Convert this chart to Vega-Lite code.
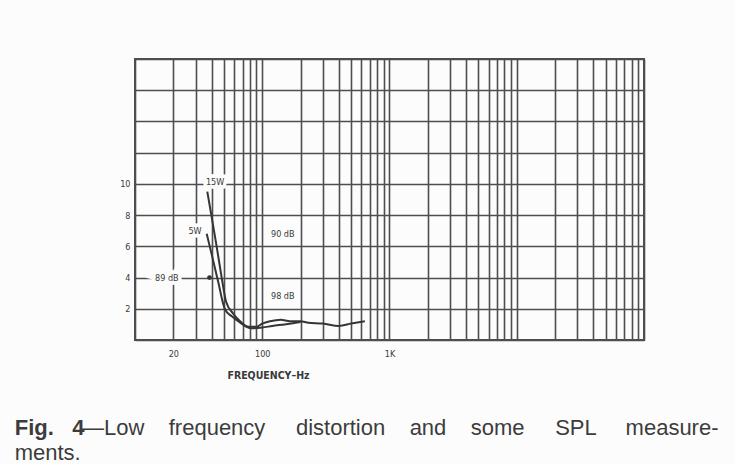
{
  "$schema": "https://vega.github.io/schema/vega-lite/v6.json",
  "width": 509,
  "height": 281,
  "autosize": {"type": "none"},
  "padding": {"left": 135, "top": 59, "right": 91, "bottom": 124},
  "background": "#fcfcfc",
  "title": {
    "text": "Fig.\u00a0\u00a0\u00a04",
    "subtitle": ["\u200b\u00a0\u00a0\u00a0\u00a0\u00a0\u00a0\u00a0\u00a0\u00a0\u00a0\u00a0—Low\u00a0\u00a0\u00a0\u00a0frequency\u00a0\u00a0\u00a0\u00a0\u00a0distortion\u00a0\u00a0\u00a0\u00a0and\u00a0\u00a0\u00a0\u00a0some\u00a0\u00a0\u00a0\u00a0\u00a0SPL\u00a0\u00a0\u00a0\u00a0\u2009measure-", "ments."],
    "orient": "bottom",
    "anchor": "start",
    "frame": "bounds",
    "font": "Liberation Sans",
    "fontSize": 22,
    "fontWeight": "bold",
    "color": "#3c3c3c",
    "subtitleFont": "Liberation Sans",
    "subtitleFontSize": 22,
    "subtitleFontWeight": "normal",
    "subtitleColor": "#3c3c3c",
    "subtitleLineHeight": 25,
    "subtitlePadding": -22,
    "offset": 37,
    "dx": -105
  },
  "datasets": {
    "curves": [
      {"series": "15W", "freq": 37, "thd": 9.5},
      {"series": "15W", "freq": 40, "thd": 7.9},
      {"series": "15W", "freq": 44, "thd": 5.9},
      {"series": "15W", "freq": 48, "thd": 4.0},
      {"series": "15W", "freq": 52, "thd": 2.45},
      {"series": "15W", "freq": 59, "thd": 1.7},
      {"series": "15W", "freq": 68, "thd": 1.15},
      {"series": "15W", "freq": 78, "thd": 0.85},
      {"series": "15W", "freq": 90, "thd": 0.85},
      {"series": "15W", "freq": 100, "thd": 1.05},
      {"series": "15W", "freq": 115, "thd": 1.2},
      {"series": "15W", "freq": 140, "thd": 1.3},
      {"series": "15W", "freq": 165, "thd": 1.2},
      {"series": "15W", "freq": 200, "thd": 1.2},
      {"series": "15W", "freq": 230, "thd": 1.1},
      {"series": "15W", "freq": 300, "thd": 1.05},
      {"series": "15W", "freq": 400, "thd": 0.9},
      {"series": "15W", "freq": 500, "thd": 1.05},
      {"series": "15W", "freq": 640, "thd": 1.2},
      {"series": "5W", "freq": 36.6, "thd": 6.8},
      {"series": "5W", "freq": 40, "thd": 5.5},
      {"series": "5W", "freq": 45, "thd": 3.75},
      {"series": "5W", "freq": 51, "thd": 1.95},
      {"series": "5W", "freq": 58, "thd": 1.5},
      {"series": "5W", "freq": 66, "thd": 1.15},
      {"series": "5W", "freq": 75, "thd": 0.85},
      {"series": "5W", "freq": 82, "thd": 0.75},
      {"series": "5W", "freq": 100, "thd": 0.8},
      {"series": "5W", "freq": 120, "thd": 0.9},
      {"series": "5W", "freq": 150, "thd": 1.0},
      {"series": "5W", "freq": 200, "thd": 1.15}
    ],
    "labels": [
      {"label": "15W", "freq": 42.6, "thd": 10.1},
      {"label": "5W", "freq": 29.6, "thd": 7.0},
      {"label": "90 dB", "freq": 145, "thd": 6.8},
      {"label": "98 dB", "freq": 145, "thd": 2.8},
      {"label": "89 dB", "freq": 17.8, "thd": 4.0}
    ],
    "marker": [
      {"freq": 38.5, "thd": 4.0}
    ]
  },
  "layer": [
    {
      "data": {"name": "curves"},
      "mark": {"type": "line", "color": "#353535", "strokeWidth": 2, "interpolate": "monotone"},
      "encoding": {
        "x": {
          "field": "freq",
          "type": "quantitative",
          "scale": {"type": "log", "domain": [10, 100000], "nice": false},
          "axis": {
            "values": [10, 20, 30, 40, 50, 60, 70, 80, 90, 100, 200, 300, 400, 500, 600, 700, 800, 900, 1000, 2000, 3000, 4000, 5000, 6000, 7000, 8000, 9000, 10000, 20000, 30000, 40000, 50000, 60000, 70000, 80000, 90000, 100000],
            "tickCount": 100,
            "labelExpr": "datum.value == 20 ? '20' : datum.value == 100 ? '100' : datum.value == 1000 ? '1K' : ''",
            "labelOverlap": false,
            "labelFlush": false,
            "labelBound": false,
            "grid": true,
            "gridColor": "#4e4e4e",
            "gridWidth": 1.6,
            "ticks": false,
            "domain": false,
            "labelFont": "DejaVu Sans Condensed, Liberation Sans Narrow, DejaVu Sans",
            "labelFontSize": 9,
            "labelColor": "#3a3a3a",
            "labelPadding": 9,
            "title": "FREQUENCY–Hz",
            "titleFont": "DejaVu Sans Condensed, Liberation Sans Narrow, DejaVu Sans",
            "titleFontSize": 10.5,
            "titleFontWeight": "bold",
            "titleColor": "#3a3a3a",
            "titleAlign": "center",
            "titleBaseline": "middle",
            "titleX": 133,
            "titleY": 35
          }
        },
        "y": {
          "field": "thd",
          "type": "quantitative",
          "scale": {"domain": [0, 18], "nice": false},
          "axis": {
            "values": [0, 2, 4, 6, 8, 10, 12, 14, 16, 18],
            "tickCount": 40,
            "format": "d",
            "labelExpr": "datum.value >= 2 && datum.value <= 10 ? datum.label : ''",
            "labelOverlap": false,
            "labelBound": false,
            "labelFlush": false,
            "grid": true,
            "gridColor": "#4e4e4e",
            "gridWidth": 1.6,
            "ticks": false,
            "domain": false,
            "labelFont": "DejaVu Sans Condensed, Liberation Sans Narrow, DejaVu Sans",
            "labelFontSize": 9,
            "labelColor": "#3a3a3a",
            "labelPadding": 5,
            "title": null
          }
        },
        "detail": {"field": "series", "type": "nominal"}
      }
    },
    {
      "data": {"name": "labels"},
      "mark": {"type": "text", "font": "DejaVu Sans Condensed, Liberation Sans Narrow, DejaVu Sans", "fontSize": 9, "stroke": "#fcfcfc", "strokeWidth": 7, "fill": "#fcfcfc"},
      "encoding": {
        "x": {"field": "freq", "type": "quantitative"},
        "y": {"field": "thd", "type": "quantitative"},
        "text": {"field": "label"}
      }
    },
    {
      "data": {"name": "labels"},
      "mark": {"type": "text", "font": "DejaVu Sans Condensed, Liberation Sans Narrow, DejaVu Sans", "fontSize": 9, "color": "#3a3a3a"},
      "encoding": {
        "x": {"field": "freq", "type": "quantitative"},
        "y": {"field": "thd", "type": "quantitative"},
        "text": {"field": "label"}
      }
    },
    {
      "data": {"name": "marker"},
      "mark": {"type": "point", "filled": true, "size": 22, "color": "#333", "opacity": 1},
      "encoding": {
        "x": {"field": "freq", "type": "quantitative"},
        "y": {"field": "thd", "type": "quantitative"}
      }
    }
  ],
  "config": {
    "view": {"stroke": "#4e4e4e", "strokeWidth": 2}
  }
}
